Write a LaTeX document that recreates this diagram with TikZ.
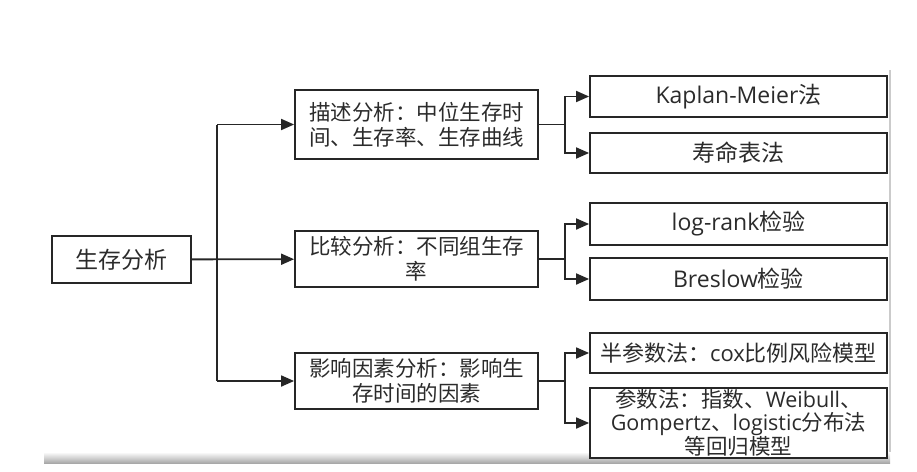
\documentclass[tikz,border=0pt]{standalone}
\usepackage{fontspec}
\usepackage{tikz}
\usetikzlibrary{positioning,arrows.meta,calc}
\setmainfont{Noto Sans CJK SC}
\newfontfamily\latn{Open Sans}
\definecolor{ink}{HTML}{262626}
\definecolor{txt}{HTML}{2B2B2B}
\definecolor{edge}{HTML}{A8A8A8}

\begin{document}
\begin{tikzpicture}[
  x=1pt,y=-1pt,
  box/.style={draw=ink,line width=1.8pt,fill=white,align=center,inner sep=2pt,
              text=txt,font=\fontsize{21.5}{25}\selectfont},
  root/.style={box,minimum width=139pt,minimum height=47pt,font=\fontsize{23}{27}\selectfont},
  mid/.style={box,minimum width=243pt},
  leaf/.style={box,minimum width=297pt,minimum height=41pt,font=\fontsize{23}{27}\selectfont},
  ln/.style={draw=ink,line width=1.8pt},
  ar/.style={ln,-{Triangle[length=13pt,width=11pt]}}
]
\useasboundingbox (0,0) rectangle (917,471);

% scan edges
\shade[top color=white,bottom color=edge] (44,452) rectangle (890,463);
\draw[edge!60,line width=2pt] (890,70) -- (890,452);

\node[root] (sa) at (121.5,259.5) {生存分析};

\node[mid,minimum height=69pt] (m1) at (416.5,124.5) {描述分析：中位生存时\\间、生存率、生存曲线};
\node[mid,minimum height=56pt] (m2) at (416.5,259) {比较分析：不同组生存\\率};
\node[mid,minimum height=56pt] (m3) at (416.5,381) {影响因素分析：影响生\\存时间的因素};

\node[leaf] (k1) at (738.5,96.5) {{\latn Kaplan-Meier}法};
\node[leaf,minimum height=40pt] (k2) at (738.5,153) {寿命表法};
\node[leaf,minimum height=42pt] (c1) at (738.5,224) {{\latn log-rank}检验};
\node[leaf,minimum height=42pt] (c2) at (738.5,279) {{\latn Breslow}检验};
\node[leaf,minimum height=40pt,font=\fontsize{22}{26}\selectfont] (f1) at (738.5,353) {半参数法：{\latn cox}比例风险模型};
\node[leaf,minimum height=70pt,inner sep=0pt,font=\fontsize{21.5}{22.5}\selectfont] (f2) at (738.5,423)
  {参数法：指数、{\latn Weibull}、\\{\latn Gompertz}、{\latn logistic}分布法\\等回归模型};

\coordinate (tr) at (217,259);

\draw[ln] (tr |- m1.west) -- (tr |- m3.west);
\draw[ar] (sa) -- (m2);
\draw[ar] (tr |- m1.west) -- (m1);
\draw[ar] (tr |- m3.west) -- (m3);

\draw[ar] (m1.east) -- ++(26,0) |- (k1);
\draw[ar] (m1.east) -- ++(26,0) |- (k2);
\draw[ar] (m2.east) -- ++(26,0) |- (c1);
\draw[ar] (m2.east) -- ++(26,0) |- (c2);
\draw[ar] (m3.east) -- ++(26,0) |- (f1);
\draw[ar] (m3.east) -- ++(26,0) |- (f2);
\end{tikzpicture}
\end{document}
